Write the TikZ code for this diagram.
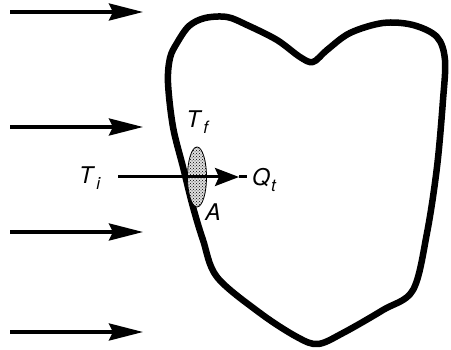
\documentclass[tikz,border=0pt]{standalone}
\usepackage{fontspec}
\setmainfont{TeX Gyre Heros}
\usetikzlibrary{arrows.meta,shapes.geometric,patterns}
\newcommand{\lbl}[2]{\textit{#1}\kern1pt\raisebox{-0.25em}{\fontsize{17}{17}\selectfont\textit{#2}}}
\begin{document}
\begin{tikzpicture}[x=1pt,y=-1pt,
  flow/.style={line width=3.4pt,-{Stealth[length=34pt,width=17pt,inset=4pt]}},
  lab/.style={font=\fontsize{23}{23}\selectfont, inner sep=0pt},
  outline/.style={line width=6.5pt, line join=round}]
\useasboundingbox (0,0) rectangle (451,350);
% incoming arrows
\foreach \y/\n in {12/a1,127/a2,232/a3,332/a4}{
  \coordinate (\n s) at (10,\y);
  \coordinate (\n e) at (143,\y);
  \draw[flow] (\n s) -- (\n e);
}
% heart
\draw[outline] plot[smooth cycle, tension=0.55] coordinates {
 (313,62) (327,50) (350,33) (383,23) (413,25) (437,37) (445,60) (443,100)
 (437,167) (427,233) (413,290) (383,310) (343,333) (318,344) (297,337)
 (260,313) (217,277) (203,240) (193,207) (183,167) (173,127) (168,83)
 (170,58) (177,43) (189,26) (205,18) (227,17) (247,25) (277,40) (300,57)};
% area
\node[ellipse, draw, line width=0.8pt, fill=gray!25, postaction={pattern=crosshatch dots}, minimum width=19pt, minimum height=60pt, inner sep=0pt] (area) at (197,177) {};
% labels
\node[lab] (Ti) at (90,178) {\lbl{T}{i}};
\node[lab, anchor=west] (Qt) at (252,180) {\lbl{Q}{t}};
\node[lab] (Tf) at (198,122) {\lbl{T}{f}};
\node[lab] (A) at (213,212) {\textit{A}};
\coordinate (st) at (118,177);
\coordinate (tip) at (239,177);
\coordinate (en) at (247,177);
\draw[line width=3pt,-{Stealth[length=24pt,width=18pt,inset=4pt]}] (st) -- (tip);
\draw[line width=3pt] (tip) -- (en);
\end{tikzpicture}
\end{document}
